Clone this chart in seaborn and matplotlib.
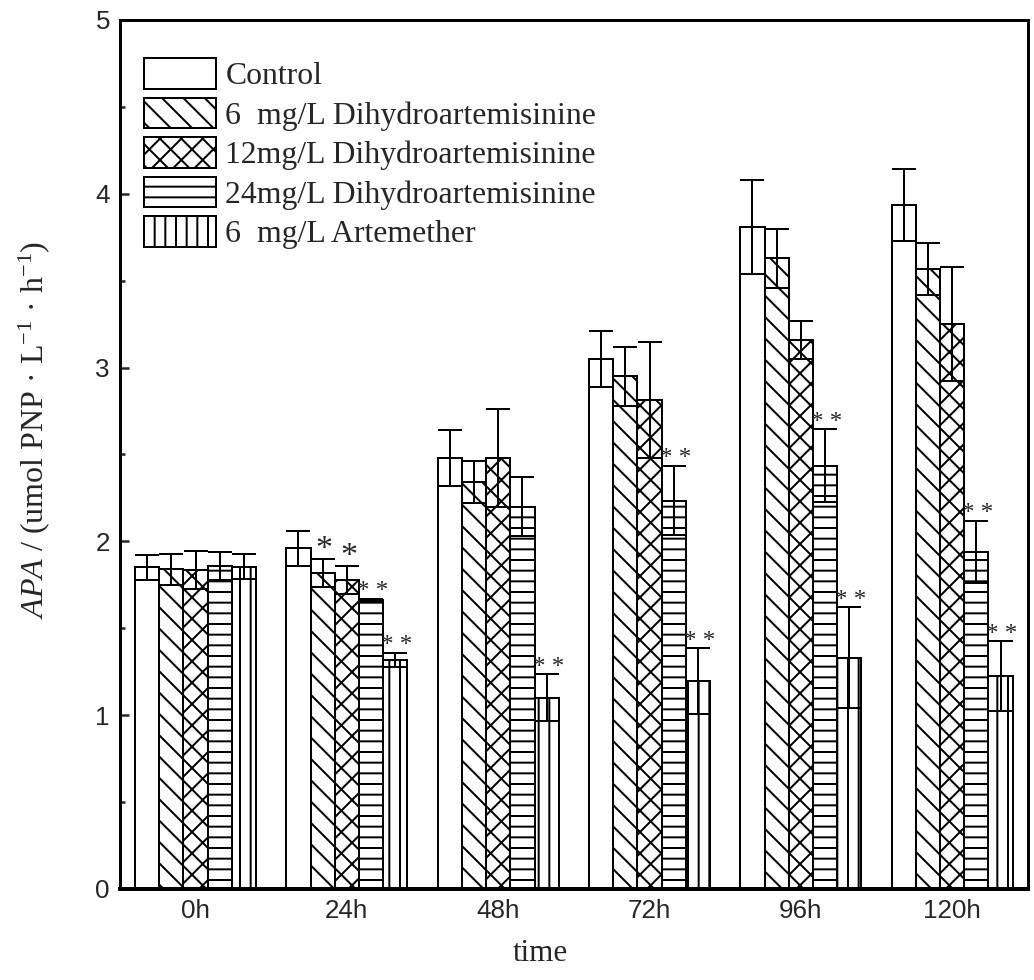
import pandas as pd
import matplotlib
matplotlib.use('Agg')
import matplotlib.pyplot as plt
from matplotlib.ticker import MultipleLocator
import seaborn as sns

# figure is 1034x980 px; dpi 128 makes the hatch spacing close to the original
DPI = 128


def pt(px):
    # pixel size -> points at this dpi
    return px * 72.0 / DPI


# Data
times = ['0h', '24h', '48h', '72h', '96h', '120h']
groups = ['Control', '6  mg/L Dihydroartemisinine', '12mg/L Dihydroartemisinine',
          '24mg/L Dihydroartemisinine', '6  mg/L Artemether']

control_mean = [1.85, 1.96, 2.48, 3.05, 3.81, 3.935]
control_err = [0.07, 0.10, 0.16, 0.16, 0.27, 0.205]
dha6_mean = [1.84, 1.82, 2.34, 2.95, 3.63, 3.565]
dha6_err = [0.09, 0.08, 0.12, 0.17, 0.17, 0.15]
dha12_mean = [1.835, 1.78, 2.48, 2.815, 3.16, 3.25]
dha12_err = [0.11, 0.08, 0.28, 0.335, 0.11, 0.33]
dha24_mean = [1.86, 1.66, 2.20, 2.235, 2.435, 1.94]
dha24_err = [0.08, 0.01, 0.17, 0.20, 0.21, 0.18]
arte_mean = [1.855, 1.32, 1.10, 1.195, 1.33, 1.225]
arte_err = [0.07, 0.04, 0.135, 0.19, 0.29, 0.20]

# significance marks
control_sig = ['', '', '', '', '', '']
dha6_sig = ['', '*', '', '', '', '']
dha12_sig = ['', '*', '', '', '', '']
dha24_sig = ['', '**', '', '**', '**', '**']
arte_sig = ['', '**', '**', '**', '**', '**']

means = [control_mean, dha6_mean, dha12_mean, dha24_mean, arte_mean]
errs = [control_err, dha6_err, dha12_err, dha24_err, arte_err]
sigs = [control_sig, dha6_sig, dha12_sig, dha24_sig, arte_sig]
hatches = ['', '\\\\', 'xx', '--', '||']

rows = []
for g, m in zip(groups, means):
    for t, v in zip(times, m):
        rows.append({'time': t, 'group': g, 'APA': v})
df = pd.DataFrame(rows)

sns.set_style('ticks')
plt.rcParams['font.family'] = ['Liberation Sans', 'DejaVu Sans']
plt.rcParams['mathtext.fontset'] = 'custom'
plt.rcParams['mathtext.rm'] = 'Liberation Serif'
plt.rcParams['mathtext.it'] = 'Liberation Serif:italic'
plt.rcParams['hatch.linewidth'] = pt(2)
plt.rcParams['hatch.color'] = 'black'

fig = plt.figure(figsize=(1034 / DPI, 980 / DPI), dpi=DPI)
ax = fig.add_axes([0.116, 0.0929, 0.878, 0.8867])

sns.barplot(data=df, x='time', y='APA', hue='group', order=times, hue_order=groups,
            palette=['white'] * 5, edgecolor='black', linewidth=pt(2),
            errorbar=None, width=0.8, saturation=1, legend=False, ax=ax)

serif = ['Liberation Serif', 'DejaVu Serif']
for cont, h, m, e, s in zip(ax.containers, hatches, means, errs, sigs):
    xs = []
    for p in cont.patches:
        p.set_hatch(h)
        p.set_facecolor('white')
        p.set_edgecolor('black')
        xs.append(p.get_x() + p.get_width() / 2)
    ax.errorbar(xs, m, yerr=e, fmt='none', ecolor='black', elinewidth=pt(2),
                capsize=pt(12), capthick=pt(2), zorder=4)
    for x, v, ev, mark in zip(xs, m, e, s):
        if not mark:
            continue
        txt = '* *' if mark == '**' else '*'
        size = pt(25) if mark == '**' else pt(34)
        ax.annotate(txt, xy=(x, v + ev), xytext=(pt(1.5), pt(0.5)), textcoords='offset points',
                    ha='center', va='baseline', fontsize=size, family=serif)

ax.set_xlim(-0.5, 5.5)
ax.set_ylim(0, 5)
ax.yaxis.set_major_locator(MultipleLocator(1))
ax.yaxis.set_minor_locator(MultipleLocator(0.5))
ax.tick_params(axis='both', which='major', direction='in', width=pt(2.5),
               labelsize=pt(26), pad=pt(10))
ax.tick_params(axis='y', which='major', length=pt(9))
ax.tick_params(axis='x', which='major', length=pt(5))
ax.tick_params(axis='y', which='minor', direction='in', length=pt(5), width=pt(2.5))

for side in ['left', 'right', 'top']:
    ax.spines[side].set_linewidth(pt(3))
ax.spines['bottom'].set_linewidth(pt(4))
for sp in ax.spines.values():
    sp.set_color('black')

ax.set_xlabel('time', fontsize=pt(31), family=serif)
ax.xaxis.set_label_coords(0.4626, -0.058)
ax.set_ylabel(r'$\mathit{APA}$ / (umol PNP · L$^{-1}$ · h$^{-1}$)', fontsize=pt(32), family=serif)
ax.yaxis.set_label_coords(-0.075, 0.528)

ax.legend(ax.containers, groups, loc='upper left', bbox_to_anchor=(0.0264, 0.956),
          frameon=False, prop={'family': serif, 'size': pt(31.7)},
          handlelength=2.27, handleheight=1.1, labelspacing=0.205,
          handletextpad=0.3, borderpad=0, borderaxespad=0)

fig.savefig('out.png', dpi=DPI)
